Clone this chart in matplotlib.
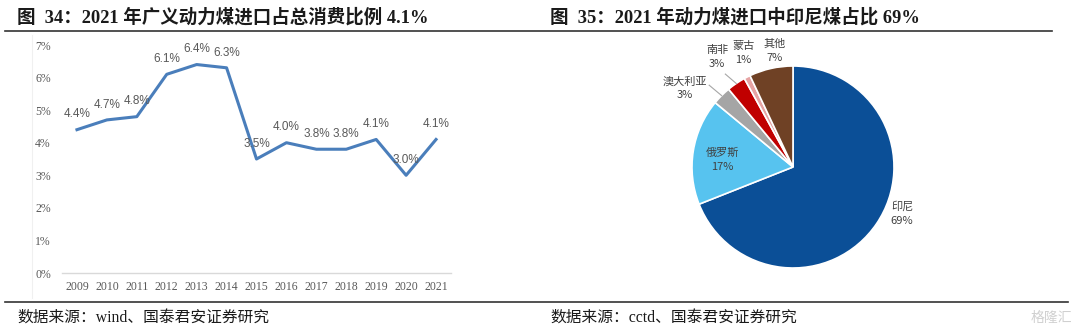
import matplotlib
matplotlib.use("Agg")
import matplotlib.pyplot as plt
import numpy as np

plt.rcParams['font.family'] = ['Liberation Serif', 'Noto Sans CJK SC', 'DejaVu Sans']

# ---------------- data ----------------
years = ['2009', '2010', '2011', '2012', '2013', '2014', '2015',
         '2016', '2017', '2018', '2019', '2020', '2021']
share_pct = [4.4, 4.7, 4.8, 6.1, 6.4, 6.3, 3.5, 4.0, 3.8, 3.8, 4.1, 3.0, 4.1]
y_ticks = [0, 1, 2, 3, 4, 5, 6, 7]

pie_names = ['印尼', '俄罗斯', '澳大利亚', '南非', '蒙古', '其他']
pie_values = [69, 17, 3, 3, 1, 7]
pie_colors = ['#0B4F97', '#57C3EF', '#A5A5A5', '#C00000', '#E6A3A3', '#6F4125']

title_left = '图  34：2021 年广义动力煤进口占总消费比例 4.1%'
title_right = '图  35：2021 年动力煤进口中印尼煤占比 69%'
source_left = '数据来源：wind、国泰君安证券研究'
source_right = '数据来源：cctd、国泰君安证券研究'

W, H = 1080, 333
fig = plt.figure(figsize=(W / 100, H / 100), dpi=100)
fig.patch.set_facecolor('white')

def fx(px):
    return px / W

def fy(py):
    return 1 - py / H

# ---------------- titles, rules, sources ----------------
fig.text(fx(17), fy(17), title_left, fontsize=13.3, fontweight='bold',
         color='#1a1a1a', va='center', ha='left')
fig.text(fx(550), fy(17), title_right, fontsize=13.3, fontweight='bold',
         color='#1a1a1a', va='center', ha='left')
fig.add_artist(plt.Line2D([fx(5), fx(1052)], [fy(31), fy(31)], color='#333333', lw=1.2))
fig.add_artist(plt.Line2D([fx(5), fx(1068)], [fy(302), fy(302)], color='#333333', lw=1.2))
fig.text(fx(17), fy(318), source_left, fontsize=11.3, color='#1a1a1a', va='center', ha='left')
fig.text(fx(550), fy(318), source_right, fontsize=11.3, color='#1a1a1a', va='center', ha='left')
fig.text(fx(1072), fy(318), '格隆汇', fontsize=10, color='#d0d0d0', va='center', ha='right',
         family=['Noto Sans CJK SC'])

# ---------------- left: line chart ----------------
ax = fig.add_axes([fx(62), fy(273), fx(451) - fx(62), fy(45) - fy(273)])
x = np.arange(len(years))
ax.plot(x, share_pct, color='#4A7EBB', lw=2.2, solid_joinstyle='round')
ax.set_xlim(-0.5, len(years) - 0.5)
ax.set_ylim(0, 7)
ax.set_yticks(y_ticks)
ax.set_yticklabels([f'{t}%' for t in y_ticks])
ax.set_xticks(x)
ax.set_xticklabels(years)
for s in ['top', 'right', 'left']:
    ax.spines[s].set_visible(False)
ax.spines['bottom'].set_color('#D9D9D9')
ax.spines['bottom'].set_linewidth(1.0)
ax.tick_params(axis='both', length=0, colors='#595959', labelsize=8.5)
ax.tick_params(axis='y', pad=8)
ax.tick_params(axis='x', pad=6)
for xi, v in zip(x, share_pct):
    ax.annotate(f'{v:.1f}%', (xi, v), xytext=(0, 11), textcoords='offset points',
                ha='center', va='center', fontsize=8.5, color='#595959',
                family=['Liberation Sans'])

# faint left frame line of chart area
fig.add_artist(plt.Line2D([fx(32), fx(32)], [fy(35), fy(298)], color='#F0F0F0', lw=0.8))

# ---------------- right: pie ----------------
cx, cy, r = 793, 167, 101
axp = fig.add_axes([fx(cx - r), fy(cy + r), fx(2 * r), fy(cy - r) - fy(cy + r)])
wedges, _ = axp.pie(pie_values, colors=pie_colors, startangle=90, counterclock=False,
                    radius=1.0, wedgeprops=dict(edgecolor='white', linewidth=1.2))
axp.set_xlim(-1, 1)
axp.set_ylim(-1, 1)
axp.set_aspect('equal')
axp.axis('off')

# label placement (text block centres in pie radius units) and leader flags
label_pos = [(1.08, -0.46), (-0.70, 0.07), (-1.07, 0.78), (-0.75, 1.09), (-0.49, 1.13), (-0.18, 1.15)]
leader = [False, False, True, True, False, False]
total = sum(pie_values)
cum = 0
for name, v, (lx, ly), ld, w in zip(pie_names, pie_values, label_pos, leader, wedges):
    mid = 90 - 360 * (cum + v / 2) / total
    cum += v
    axp.text(lx, ly, f'{name}\n{v}%', ha='center', va='center', fontsize=8,
             color='#404040', linespacing=1.45, family=['Noto Sans CJK SC'], clip_on=False)
    if ld:
        ex, ey = np.cos(np.radians(mid)), np.sin(np.radians(mid))
        sx, sy = lx + 0.24, ly + 0.03
        if name == '南非':
            sx, sy = lx + 0.08, ly - 0.17
        axp.plot([sx, ex], [sy, ey], color='#A6A6A6', lw=0.8, clip_on=False)

fig.savefig('out.png', dpi=100, facecolor='white')
